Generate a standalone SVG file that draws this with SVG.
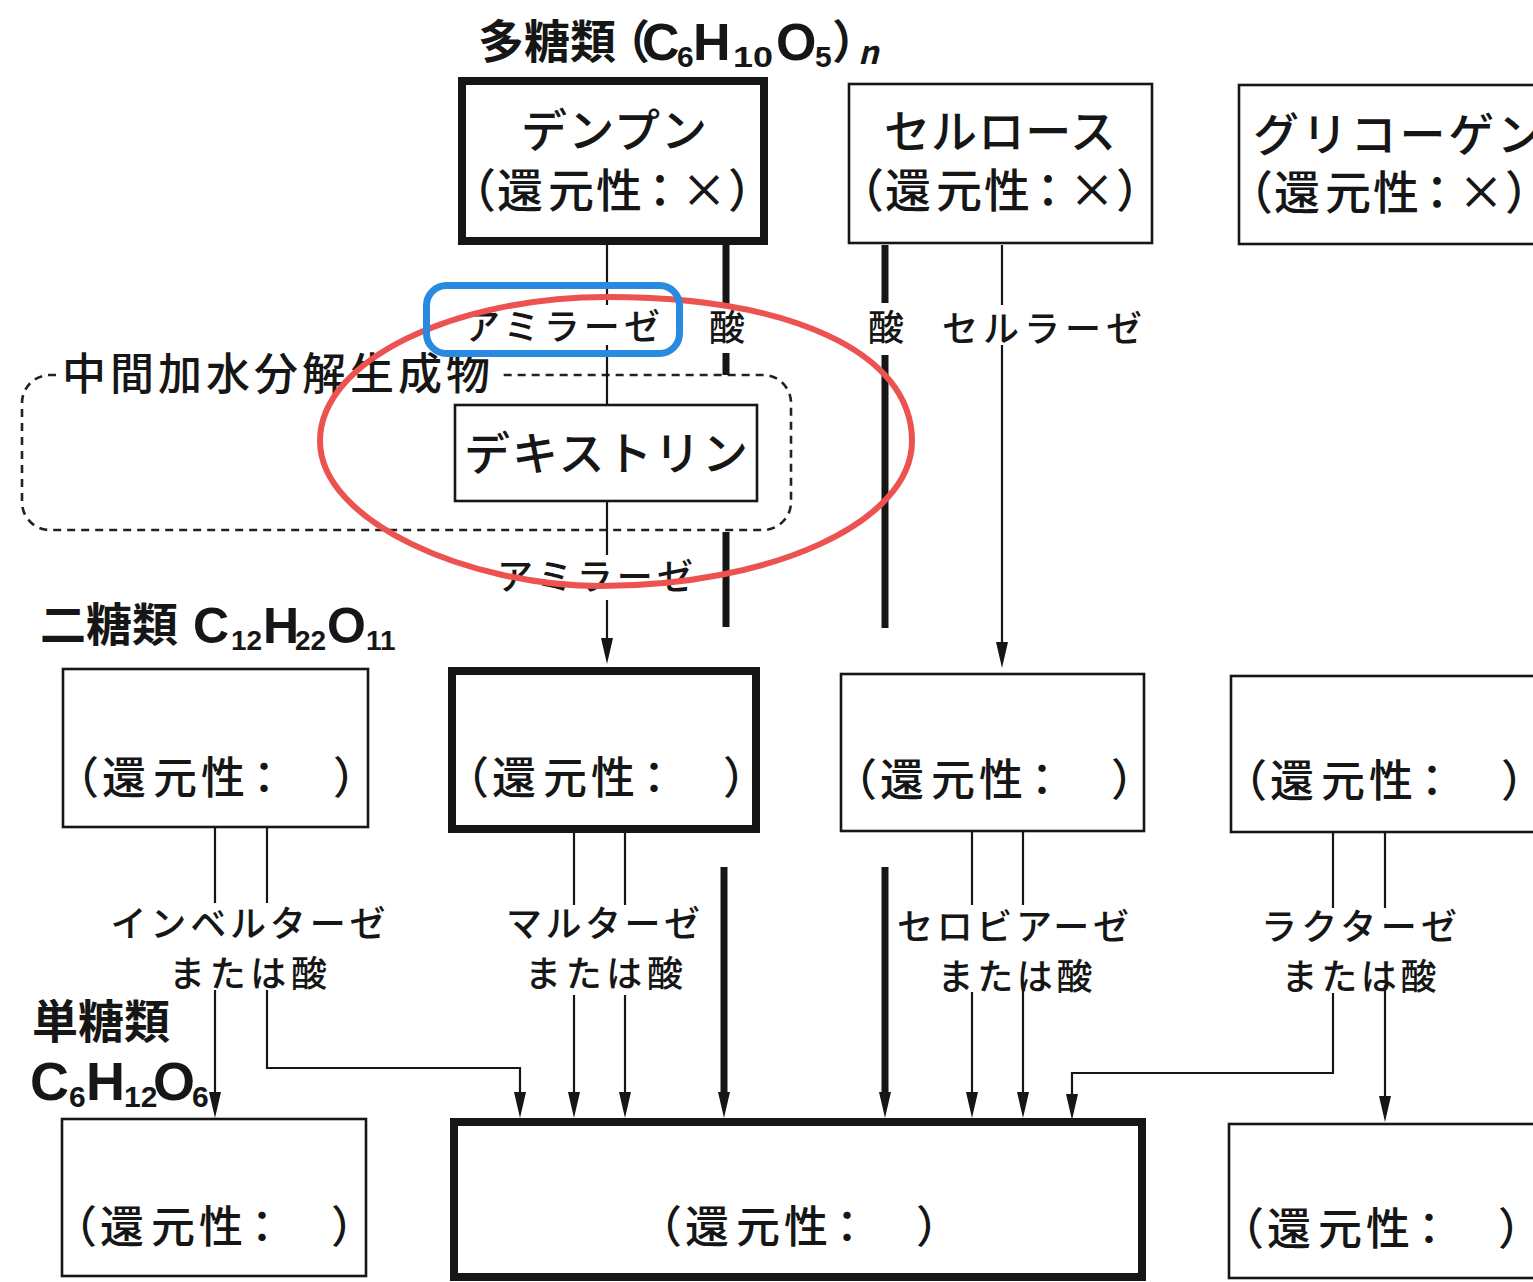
<svg xmlns="http://www.w3.org/2000/svg" width="1533" height="1282" viewBox="0 0 1533 1282">
<defs>
<marker id="ah" markerUnits="userSpaceOnUse" viewBox="0 0 26 12" markerWidth="26" markerHeight="12" refX="2" refY="6" orient="auto">
<path d="M0,0 L26,6 L0,12 z" fill="#161616"/>
</marker>
<style>
text{font-family:"Noto Sans CJK JP","Noto Sans CJK SC",sans-serif;fill:#161616}
.box{fill:#fff;stroke:#161616;stroke-width:2.6}
.bbox{fill:#fff;stroke:#161616;stroke-width:8}
.kt{font-size:46px;font-weight:500;text-anchor:middle}
.rd{font-size:46px;font-weight:500;text-anchor:middle}
.rd2{font-size:44px;font-weight:500;text-anchor:middle}
.lbl{font-size:36px;font-weight:500;text-anchor:middle}
.hd{font-size:46px;font-weight:700}
.f{font-family:"Liberation Sans",Arial,sans-serif;font-weight:700}
.thin{fill:none;stroke:#161616;stroke-width:2.2}
.thick{fill:none;stroke:#161616;stroke-width:7}
.arr{marker-end:url(#ah)}
.dash{fill:none;stroke:#222;stroke-width:2.6;stroke-dasharray:8 6}
</style>
</defs>

<!-- headings -->
<g id="heading-poly">
<text class="hd" x="478" y="58">多糖類</text>
<text class="hd" x="627" y="58" text-anchor="middle">（</text>
<text class="f" y="60"><tspan x="642" font-size="52">C</tspan><tspan x="677" y="67" font-size="30">6</tspan><tspan x="693" y="60" font-size="52">H</tspan><tspan x="733" y="67" font-size="30" textLength="40" lengthAdjust="spacingAndGlyphs">10</tspan><tspan x="776" y="60" font-size="52">O</tspan><tspan x="815" y="67" font-size="30">5</tspan></text>
<text class="hd" x="855" y="58" text-anchor="middle">）</text>
<text x="858" y="64" font-family="Liberation Serif" font-style="italic" font-weight="700" font-size="32">n</text>
</g>
<g id="heading-di">
<text class="hd" x="40" y="641">二糖類</text>
<text class="f" y="643"><tspan x="193" font-size="50">C</tspan><tspan x="231" y="650" font-size="28">12</tspan><tspan x="263" y="643" font-size="50">H</tspan><tspan x="295" y="650" font-size="28">22</tspan><tspan x="327" y="643" font-size="50">O</tspan><tspan x="366" y="650" font-size="28">11</tspan></text>
</g>
<g id="heading-mono">
<text class="hd" x="32" y="1038">単糖類</text>
<text class="f" y="1100"><tspan x="30" font-size="54">C</tspan><tspan x="69" y="1107" font-size="30">6</tspan><tspan x="86" y="1100" font-size="54">H</tspan><tspan x="124" y="1107" font-size="30">12</tspan><tspan x="153" y="1100" font-size="54">O</tspan><tspan x="192" y="1107" font-size="30">6</tspan></text>
</g>

<!-- intermediate group -->
<g id="intermediate">
<path class="dash" d="M56,375 H50 A28,28 0 0 0 22,403 V502 A28,28 0 0 0 50,530 H763 A28,28 0 0 0 791,502 V403 A28,28 0 0 0 763,375 H500"/>
<text x="276" y="390" font-size="44" font-weight="500" text-anchor="middle" textLength="428" lengthAdjust="spacing">中間加水分解生成物</text>
</g>

<!-- connectors -->
<g id="connectors">
<path class="thin" d="M607,245 V305 M607,345 V405 M607,502 V555 M1002,245 V305 M215,828 V903 M267,828 V903 M574,833 V905 M625,833 V905 M972,832 V905 M1023,832 V905 M1333,833 V908 M1385,833 V908"/>
<path class="thick" d="M726,245 V305 M726,353 V375 M726,532 V627 M885,245 V303 M885,355 V628"/>
<path class="thin arr" d="M1002,345 V644"/>
<path class="thin arr" d="M607,600 V640"/>
<path class="thin arr" d="M215,990 V1094"/>
<path class="thin arr" d="M267,990 V1068 H520 V1094"/>
<path class="thin arr" d="M574,995 V1094"/>
<path class="thin arr" d="M625,995 V1094"/>
<path class="thick arr" d="M724,867 V1094"/>
<path class="thick arr" d="M885,867 V1094"/>
<path class="thin arr" d="M972,992 V1094"/>
<path class="thin arr" d="M1023,985 V1094"/>
<path class="thin arr" d="M1333,993 V1073 H1072 V1096"/>
<path class="thin arr" d="M1385,985 V1098"/>
<text class="lbl" x="562" y="340" textLength="196" lengthAdjust="spacing">アミラーゼ</text>
<text class="lbl" x="727" y="341">酸</text>
<text class="lbl" x="886" y="341">酸</text>
<text class="lbl" x="1042" y="342" textLength="200" lengthAdjust="spacing">セルラーゼ</text>
<text class="lbl" x="595" y="590" textLength="196" lengthAdjust="spacing">アミラーゼ</text>
<text class="lbl" x="248" y="937" textLength="275" lengthAdjust="spacing">インベルターゼ</text>
<text class="lbl" x="248" y="987" textLength="158" lengthAdjust="spacing">または酸</text>
<text class="lbl" x="603" y="937" textLength="194" lengthAdjust="spacing">マルターゼ</text>
<text class="lbl" x="604" y="987" textLength="158" lengthAdjust="spacing">または酸</text>
<text class="lbl" x="1013" y="940" textLength="232" lengthAdjust="spacing">セロビアーゼ</text>
<text class="lbl" x="1015" y="990" textLength="155" lengthAdjust="spacing">または酸</text>
<text class="lbl" x="1359" y="940" textLength="196" lengthAdjust="spacing">ラクターゼ</text>
<text class="lbl" x="1359" y="990" textLength="155" lengthAdjust="spacing">または酸</text>
</g>

<!-- polysaccharides -->
<g id="starch">
<rect class="bbox" x="462" y="81" width="302" height="160"/>
<text class="kt" x="614" y="147" textLength="186" lengthAdjust="spacing">デンプン</text>
<g transform="translate(478,207)"><text class="rd" x="-5 42 93 141 182 226 273" y="0">（還元性：×）</text></g>
</g>
<g id="cellulose">
<rect class="box" x="849" y="84" width="303" height="159"/>
<text class="kt" x="1000" y="148" textLength="232" lengthAdjust="spacing">セルロース</text>
<g transform="translate(866,207)"><text class="rd" x="-5 42 93 141 182 226 273" y="0">（還元性：×）</text></g>
</g>
<g id="glycogen">
<rect class="box" x="1239" y="85" width="310" height="159"/>
<text x="1253" y="151" font-size="46" font-weight="500" textLength="290" lengthAdjust="spacing">グリコーゲン</text>
<g transform="translate(1255,209)"><text class="rd" x="-5 42 93 141 182 226 273" y="0">（還元性：×）</text></g>
</g>
<g id="dextrin">
<rect class="box" x="455" y="405" width="302" height="96"/>
<text class="kt" x="606" y="470" textLength="284" lengthAdjust="spacing">デキストリン</text>
</g>

<!-- disaccharides -->
<g id="di-1">
<rect class="box" x="63" y="669" width="305" height="158"/>
<g transform="translate(82,794)"><text class="rd2" x="-5 42 93 141 182 226 273" y="0">（還元性：　）</text></g>
</g>
<g id="di-2">
<rect class="bbox" x="452" y="671" width="304" height="158"/>
<g transform="translate(472,794)"><text class="rd2" x="-5 42 93 141 182 226 273" y="0">（還元性：　）</text></g>
</g>
<g id="di-3">
<rect class="box" x="841" y="674" width="303" height="157"/>
<g transform="translate(860,796)"><text class="rd2" x="-5 42 93 141 182 226 273" y="0">（還元性：　）</text></g>
</g>
<g id="di-4">
<rect class="box" x="1231" y="676" width="310" height="156"/>
<g transform="translate(1250,797)"><text class="rd2" x="-5 42 93 141 182 226 273" y="0">（還元性：　）</text></g>
</g>

<!-- monosaccharides -->
<g id="mono-1">
<rect class="box" x="62" y="1119" width="304" height="157"/>
<g transform="translate(80,1243)"><text class="rd2" x="-5 42 93 141 182 226 273" y="0">（還元性：　）</text></g>
</g>
<g id="mono-2">
<rect class="bbox" x="454" y="1122" width="688" height="155"/>
<g transform="translate(665,1243)"><text class="rd2" x="-5 42 93 141 182 226 273" y="0">（還元性：　）</text></g>
</g>
<g id="mono-3">
<rect class="box" x="1229" y="1124" width="310" height="154"/>
<g transform="translate(1247,1245)"><text class="rd2" x="-5 42 93 141 182 226 273" y="0">（還元性：　）</text></g>
</g>

<!-- annotations -->
<g id="annotations">
<path d="M320,441 C320,360 455,297 607,297 C790,297 912,352 912,441 C912,522 772,586 600,586 C470,586 320,522 320,441 Z" fill="none" stroke="#EC5350" stroke-width="6"/>
<rect x="426.5" y="285.5" width="253" height="68" rx="20" fill="none" stroke="#2A8AE0" stroke-width="7"/>
</g>
</svg>
